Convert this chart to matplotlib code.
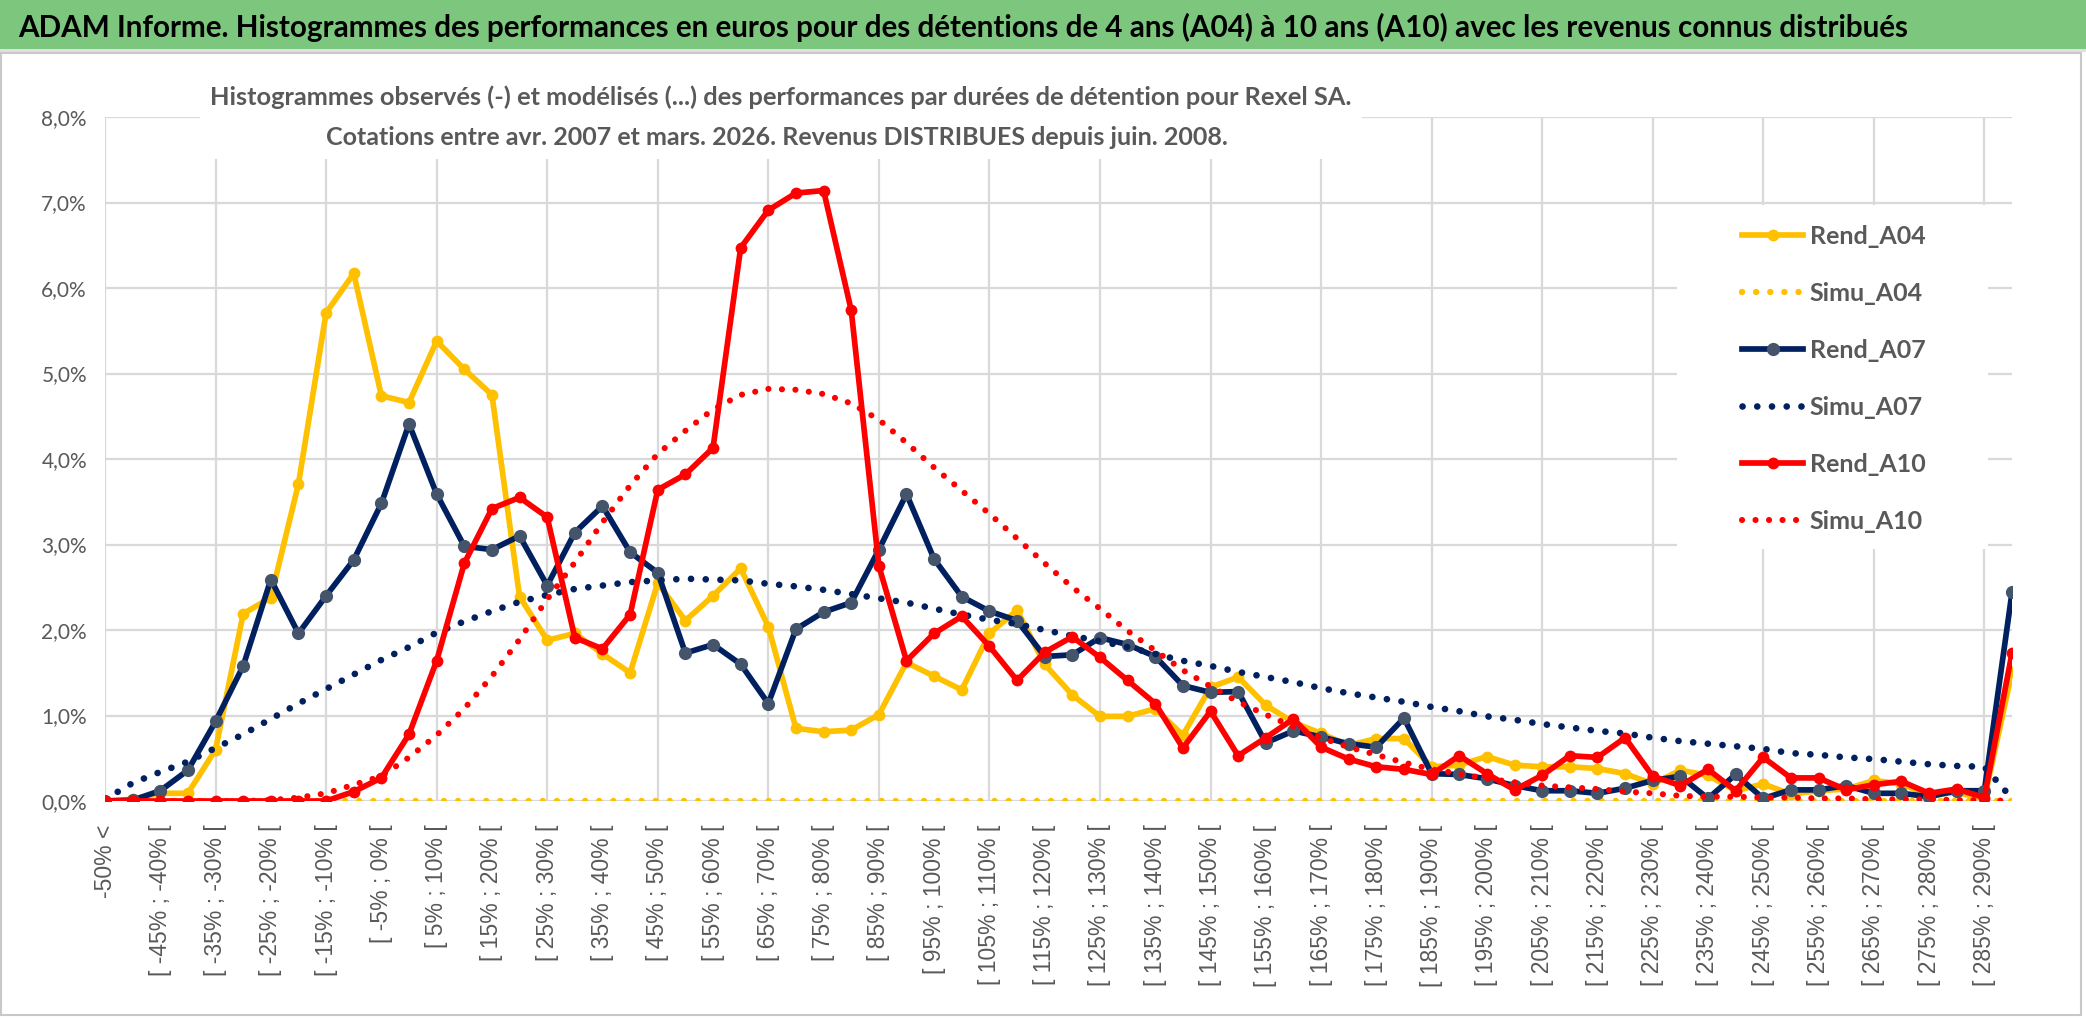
import numpy as np
import matplotlib
matplotlib.use('Agg')
import matplotlib.pyplot as plt
from matplotlib.patches import Rectangle
from matplotlib.ticker import FuncFormatter

plt.rcParams['font.family'] = ['Lato', 'DejaVu Sans']

# ---------------------------------------------------------------- data
title = ("ADAM Informe. Histogrammes des performances en euros pour des détentions "
         "de 4 ans (A04) à 10 ans (A10) avec les revenus connus distribués")
subtitle1 = ("Histogrammes observés (-) et modélisés (...) des performances par durées "
             "de détention pour Rexel SA.")
subtitle2 = "Cotations entre avr. 2007 et mars. 2026. Revenus DISTRIBUES depuis juin. 2008."

# bins of 5 % from -50 % to 290 %, plus the two open ends
bin_starts = list(range(-50, 290, 5))
categories = (["-50% <"] + ["[ %d%% ; %d%% [" % (a, a + 5) for a in bin_starts]
              + ["290% <="])

rend_a04 = [0.00, 0.02, 0.09, 0.09, 0.60, 2.19, 2.38, 3.71, 5.71, 6.17,
            4.74, 4.66, 5.38, 5.05, 4.75, 2.39, 1.88, 1.96, 1.72, 1.50,
            2.55, 2.11, 2.40, 2.72, 2.04, 0.85, 0.81, 0.83, 1.01, 1.62,
            1.46, 1.30, 1.96, 2.23, 1.60, 1.24, 0.99, 0.99, 1.08, 0.77,
            1.33, 1.45, 1.12, 0.92, 0.79, 0.65, 0.73, 0.73, 0.40, 0.42,
            0.52, 0.42, 0.40, 0.40, 0.38, 0.32, 0.20, 0.36, 0.30, 0.12,
            0.20, 0.08, 0.12, 0.14, 0.24, 0.20, 0.07, 0.10, 0.03, 1.51]
simu_a04 = [0.00, 0.00, 0.00, 0.00, 0.00, 0.00, 0.00, 0.00, 0.00, 0.00,
            0.00, 0.00, 0.00, 0.00, 0.00, 0.00, 0.00, 0.00, 0.00, 0.00,
            0.00, 0.00, 0.00, 0.00, 0.00, 0.00, 0.00, 0.00, 0.00, 0.00,
            0.00, 0.00, 0.00, 0.00, 0.00, 0.00, 0.00, 0.00, 0.00, 0.00,
            0.00, 0.00, 0.00, 0.00, 0.00, 0.00, 0.00, 0.00, 0.00, 0.00,
            0.00, 0.00, 0.00, 0.00, 0.00, 0.00, 0.00, 0.00, 0.00, 0.00,
            0.00, 0.00, 0.00, 0.00, 0.00, 0.00, 0.00, 0.00, 0.00, 0.00]
rend_a07 = [0.00, 0.01, 0.12, 0.36, 0.93, 1.58, 2.59, 1.96, 2.40, 2.82,
            3.48, 4.41, 3.59, 2.98, 2.94, 3.10, 2.52, 3.14, 3.45, 2.91,
            2.67, 1.73, 1.83, 1.60, 1.14, 2.01, 2.21, 2.32, 2.94, 3.59,
            2.83, 2.39, 2.22, 2.11, 1.69, 1.71, 1.91, 1.83, 1.69, 1.35,
            1.27, 1.28, 0.68, 0.82, 0.75, 0.67, 0.63, 0.97, 0.32, 0.31,
            0.26, 0.18, 0.12, 0.12, 0.09, 0.15, 0.24, 0.29, 0.03, 0.31,
            0.03, 0.13, 0.13, 0.18, 0.09, 0.09, 0.05, 0.12, 0.12, 2.44]
simu_a07 = [0.02, 0.21, 0.34, 0.46, 0.62, 0.78, 0.96, 1.14, 1.31, 1.48,
            1.65, 1.80, 1.97, 2.10, 2.22, 2.33, 2.41, 2.48, 2.52, 2.56,
            2.58, 2.60, 2.59, 2.58, 2.54, 2.51, 2.47, 2.42, 2.37, 2.32,
            2.25, 2.18, 2.12, 2.07, 2.00, 1.93, 1.87, 1.80, 1.72, 1.64,
            1.58, 1.51, 1.45, 1.39, 1.32, 1.26, 1.21, 1.16, 1.10, 1.05,
            0.99, 0.95, 0.90, 0.86, 0.82, 0.79, 0.74, 0.70, 0.67, 0.64,
            0.61, 0.56, 0.54, 0.51, 0.49, 0.46, 0.43, 0.41, 0.40, 0.03]
rend_a10 = [0.00, 0.00, 0.00, 0.00, 0.00, 0.00, 0.00, 0.00, 0.00, 0.11,
            0.27, 0.78, 1.64, 2.78, 3.42, 3.55, 3.32, 1.91, 1.78, 2.18,
            3.64, 3.82, 4.13, 6.47, 6.91, 7.11, 7.14, 5.74, 2.75, 1.64,
            1.96, 2.16, 1.81, 1.41, 1.74, 1.92, 1.68, 1.41, 1.14, 0.62,
            1.05, 0.53, 0.74, 0.96, 0.63, 0.49, 0.40, 0.37, 0.31, 0.53,
            0.32, 0.13, 0.30, 0.53, 0.51, 0.74, 0.29, 0.18, 0.37, 0.12,
            0.51, 0.27, 0.27, 0.13, 0.19, 0.23, 0.09, 0.14, 0.04, 1.73]
simu_a10 = [0.00, 0.00, 0.00, 0.00, 0.00, 0.00, 0.01, 0.04, 0.09, 0.19,
            0.29, 0.51, 0.77, 1.08, 1.46, 1.89, 2.36, 2.79, 3.26, 3.69,
            4.06, 4.33, 4.58, 4.75, 4.82, 4.81, 4.76, 4.65, 4.46, 4.19,
            3.90, 3.63, 3.36, 3.07, 2.78, 2.50, 2.25, 1.99, 1.76, 1.53,
            1.34, 1.16, 1.01, 0.87, 0.74, 0.63, 0.54, 0.45, 0.37, 0.32,
            0.26, 0.22, 0.18, 0.16, 0.14, 0.11, 0.09, 0.06, 0.05, 0.05,
            0.04, 0.04, 0.03, 0.03, 0.02, 0.02, 0.02, 0.01, 0.01, 0.00]

YELLOW = '#FFC000'
NAVY = '#002060'
SLATE = '#44546A'
RED = '#FF0000'
GREY_TXT = '#595959'
GRID = '#D9D9D9'

# ---------------------------------------------------------------- figure
W, H = 2086, 1031
fig = plt.figure(figsize=(W / 100, H / 100), dpi=100)
fig.patch.set_facecolor('white')

def fx(px):
    return px / W

def fy(py):
    return 1 - py / H

# green header band + chart frame
fig.patches.append(Rectangle((0, fy(49)), 1, 49 / H, transform=fig.transFigure,
                             facecolor='#7DC67E', edgecolor='none', zorder=0))
fig.patches.append(Rectangle((0, fy(52)), 1, 3 / H, transform=fig.transFigure,
                             facecolor='#E0E0E0', edgecolor='none', zorder=0))
fig.patches.append(Rectangle((fx(1), fy(1015)), fx(2080), (1015 - 53) / H,
                             transform=fig.transFigure, fill=False,
                             edgecolor='#C8C8C8', lw=1.5, zorder=0))

ax = fig.add_axes([fx(105), fy(801), fx(2012 - 105), (801 - 117) / H])
x = np.arange(len(categories))

ax.set_xlim(0, len(categories) - 1)
ax.set_ylim(0, 8)
ax.set_yticks(np.arange(0, 8.01, 1))
ax.yaxis.set_major_formatter(FuncFormatter(lambda v, p: ("%.1f%%" % v).replace('.', ',')))
ax.set_xticks(x[::2])
ax.set_xticklabels(categories[::2], rotation=90, va='top', ha='center',
                   family=['Liberation Sans', 'DejaVu Sans'], fontsize=16.5)
ax.tick_params(axis='both', length=0, colors=GREY_TXT)
ax.tick_params(axis='y', pad=13, labelsize=15)
ax.tick_params(axis='x', pad=17)
for s in ax.spines.values():
    s.set_visible(False)

ax.set_axisbelow(True)
ax.grid(axis='y', color=GRID, lw=1.6, zorder=0.5)
ax.vlines(x[::4], 0, 8, color=GRID, lw=1.6, zorder=0.5)

# white boxes behind subtitle and legend
ax.add_patch(Rectangle((fx(200), fy(159)), fx(1362 - 200), (159 - 60) / H,
                       transform=fig.transFigure, facecolor='white',
                       edgecolor='none', zorder=1, clip_on=False))
ax.add_patch(Rectangle((fx(1677), fy(549)), fx(1988 - 1677), (549 - 205) / H,
                       transform=fig.transFigure, facecolor='white',
                       edgecolor='none', zorder=1, clip_on=False))

dot = (0, (0.01, 2.2))
lw_solid = 4.1
ax.plot(x, rend_a04, color=YELLOW, lw=lw_solid, marker='o', ms=8.5, mec='none',
        mfc=YELLOW, solid_joinstyle='round', label='Rend_A04', zorder=3)
ax.plot(x, simu_a04, color=YELLOW, lw=4.6, linestyle=dot, dash_capstyle='round',
        label='Simu_A04', zorder=4)
ax.plot(x, rend_a07, color=NAVY, lw=lw_solid, marker='o', ms=9.5, mec='none',
        mfc=SLATE, solid_joinstyle='round', label='Rend_A07', zorder=5)
ax.plot(x, simu_a07, color=NAVY, lw=4.8, linestyle=dot, dash_capstyle='round',
        label='Simu_A07', zorder=6)
ax.plot(x, rend_a10, color=RED, lw=lw_solid, marker='o', ms=8.5, mec='none',
        mfc=RED, solid_joinstyle='round', label='Rend_A10', zorder=7)
ax.plot(x, simu_a10, color=RED, lw=4.4, linestyle=dot, dash_capstyle='round',
        label='Simu_A10', zorder=8)

leg = ax.legend(loc='upper left', bbox_to_anchor=(fx(1742), fy(225)),
                bbox_transform=fig.transFigure, frameon=False, borderpad=0,
                borderaxespad=0, handlelength=2.45, handletextpad=0.25,
                labelspacing=1.36, prop={'size': 18, 'weight': 'bold'})
for t in leg.get_texts():
    t.set_color(GREY_TXT)

# ---------------------------------------------------------------- texts
t_title = fig.text(fx(18), fy(27), title, ha='left', va='center',
                   fontsize=22, fontweight='bold', color='black')
t_sub1 = fig.text(fx(781), fy(97), subtitle1, ha='center', va='center',
                  fontsize=16, fontweight='bold', color=GREY_TXT)
t_sub2 = fig.text(fx(777), fy(137), subtitle2, ha='center', va='center',
                  fontsize=16, fontweight='bold', color=GREY_TXT)

# scale header texts to the widths they take in the original
fig.canvas.draw()
r = fig.canvas.get_renderer()
for t, target in [(t_title, 1895), (t_sub1, 1148), (t_sub2, 905)]:
    w = t.get_window_extent(r).width
    t.set_fontsize(t.get_fontsize() * target / w)

fig.savefig('out.png', dpi=100, facecolor='white')
